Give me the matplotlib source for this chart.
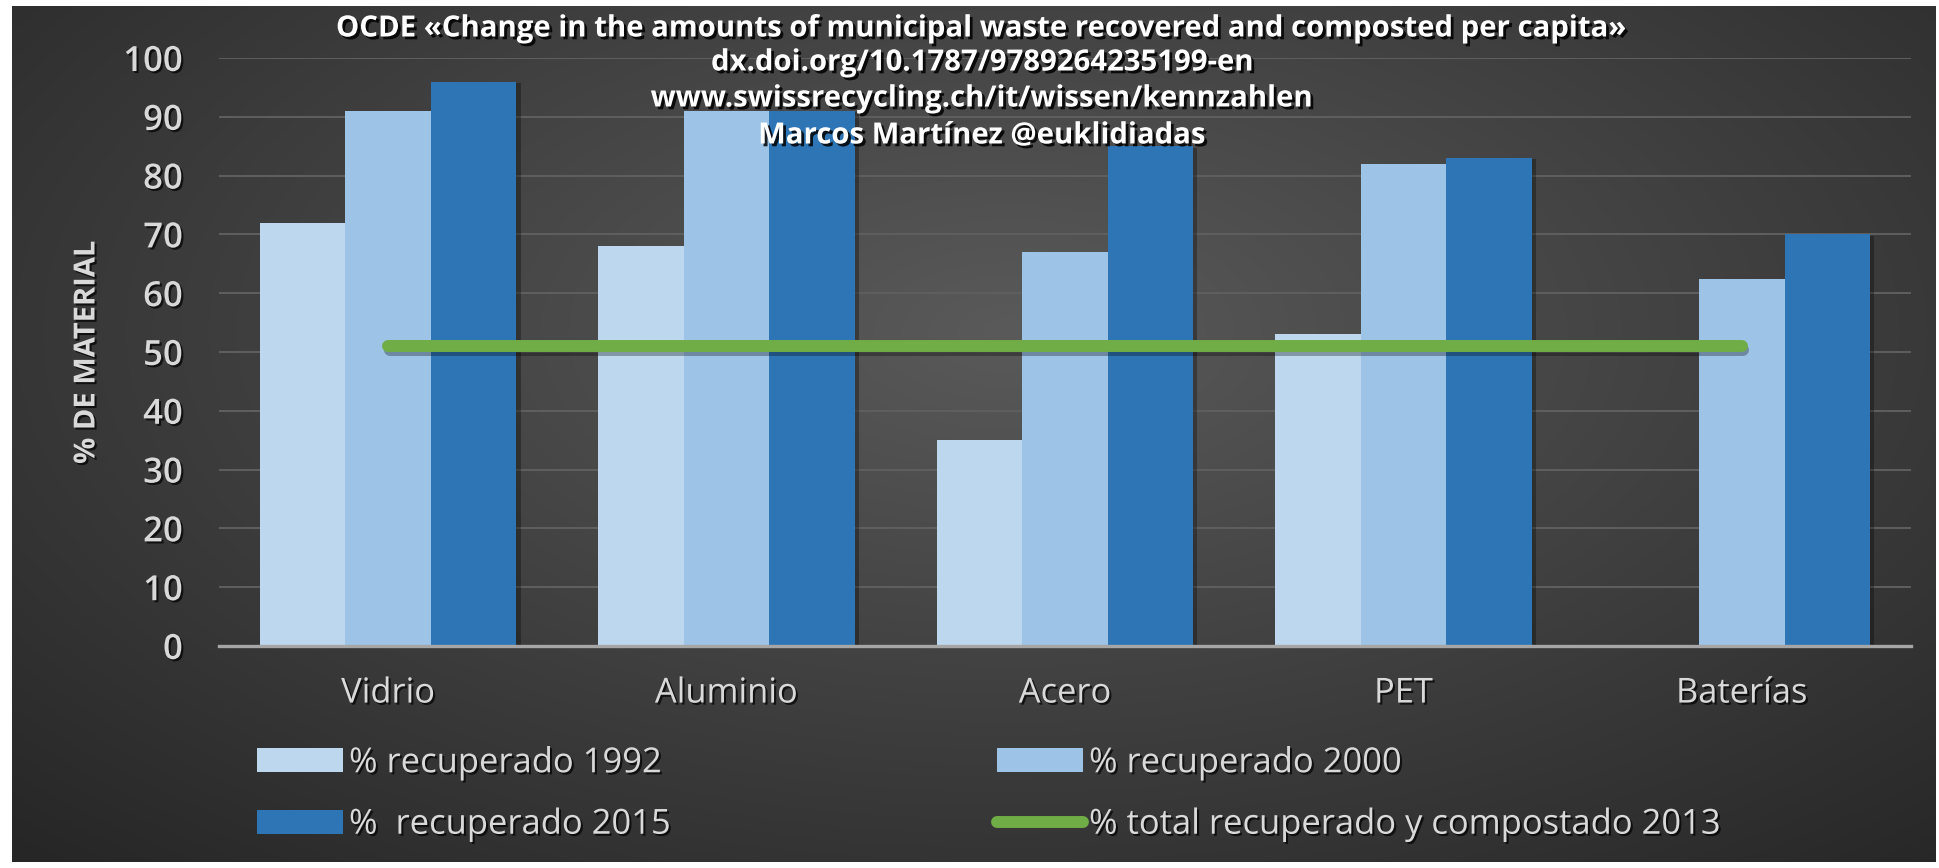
import numpy as np
import matplotlib
matplotlib.use('Agg')
import matplotlib.pyplot as plt
from matplotlib import patheffects as pe
from matplotlib.patches import Patch
from matplotlib.lines import Line2D

# ---------------- data ----------------
categories = ['Vidrio', 'Aluminio', 'Acero', 'PET', 'Baterías']
rec_1992 = [72, 68, 35, 53, np.nan]
rec_2000 = [91, 91, 67, 82, 62.5]
rec_2015 = [96, 91, 85, 83, 70]
total_2013 = [51, 51, 51, 51, 51]
yticks = [0, 10, 20, 30, 40, 50, 60, 70, 80, 90, 100]
title_lines = [
    'OCDE «Change in the amounts of municipal waste recovered and composted per capita»',
    'dx.doi.org/10.1787/9789264235199-en',
    'www.swissrecycling.ch/it/wissen/kennzahlen',
    'Marcos Martínez @euklidiadas',
]
legend_labels = ['% recuperado 1992', '% recuperado 2000',
                 '%  recuperado 2015', '% total recuperado y compostado 2013']
ylabel = '% DE MATERIAL'

# ---------------- style ----------------
C1992, C2000, C2015, CGREEN = '#BDD7EE', '#9DC3E6', '#2E75B6', '#70AD47'
TXT = '#d9d9d9'
FONT = 'Open Sans'
W, H = 1940, 868

fig = plt.figure(figsize=(W / 100, H / 100), dpi=100)
fig.patch.set_facecolor('white')
renderer = fig.canvas.get_renderer()


def fy(py):
    return 1 - py / H


def text_width(s, size, **kw):
    t = fig.text(0, 0, s, fontsize=size, **kw)
    wdt = t.get_window_extent(renderer).width
    t.remove()
    return wdt


def fit(s, target, **kw):
    return 10 * target / text_width(s, 10, **kw)


# background with radial gradient
bg = fig.add_axes([12 / W, 6 / H, (1936 - 12) / W, (862 - 6) / H])
yy, xx = np.mgrid[0:1:300j, 0:1:600j]
r = np.sqrt(((xx - 0.52) / 0.75) ** 2 + ((yy - 0.62) / 0.85) ** 2)
r = np.clip(r, 0, 1)
c_in = np.array([0x5a, 0x5a, 0x5a]) / 255
c_out = np.array([0x26, 0x26, 0x26]) / 255
img = c_in[None, None, :] * (1 - r[..., None]) + c_out[None, None, :] * r[..., None]
bg.imshow(img, extent=[0, 1, 0, 1], aspect='auto', origin='lower')
bg.set_axis_off()
bg.set_zorder(-10)

# main axes
ax = fig.add_axes([219 / W, fy(646), (1911 - 219) / W, (646 - 58) / H])
ax.set_facecolor('none')
x = np.arange(len(categories))
w = 0.2525
shadow = [pe.SimplePatchShadow(offset=(3, -1), shadow_rgbFace='black', alpha=0.3), pe.Normal()]
ax.bar(x - w, rec_1992, w, color=C1992, zorder=3, path_effects=shadow)
ax.bar(x, rec_2000, w, color=C2000, zorder=3, path_effects=shadow)
ax.bar(x + w, rec_2015, w, color=C2015, zorder=3, path_effects=shadow)
ax.plot(x, total_2013, color=CGREEN, lw=8.6, solid_capstyle='round', zorder=5,
        path_effects=[pe.SimpleLineShadow(offset=(1, -3), shadow_color='black', alpha=0.3),
                      pe.Normal()])

ax.set_xlim(-0.5, len(categories) - 0.5)
ax.set_ylim(0, 100)
ax.set_yticks(yticks)
ax.yaxis.grid(True, color='#5f5f5f', lw=1.4)
ax.set_axisbelow(True)
for s in ['top', 'right', 'left']:
    ax.spines[s].set_visible(False)
ax.spines['bottom'].set_color('#a6a6a6')
ax.spines['bottom'].set_linewidth(2.4)
ax.spines['bottom'].set_zorder(4)

txt_shadow = [pe.withSimplePatchShadow(offset=(1.5, -1.5), shadow_rgbFace='black', alpha=0.7)]

tick_fs = fit('100', 60, family=FONT, weight='semibold')
ax.set_yticklabels([str(v) for v in yticks], family=FONT, weight='semibold', fontsize=tick_fs,
                   color=TXT, path_effects=txt_shadow)
ax.tick_params(axis='y', length=0, pad=26)

cat_fs = fit('Vidrio', 94, family=FONT)
ax.set_xticks(x)
ax.set_xticklabels(categories, family=FONT, fontsize=cat_fs, color=TXT, path_effects=txt_shadow)
ax.tick_params(axis='x', length=0, pad=22)

yl_fs = fit(ylabel, 223, family=FONT, weight='bold')
fig.text(87 / W, fy(352), ylabel, rotation=90, ha='center', va='center', family=FONT,
         weight='bold', fontsize=yl_fs, color=TXT, path_effects=txt_shadow)

# title lines
title_fs = fit(title_lines[0], 1292, family=FONT, weight='bold')
for line, py in zip(title_lines, [29, 63, 99, 136]):
    fig.text(982 / W, fy(py), line, ha='center', va='center', family=FONT, weight='bold',
             fontsize=title_fs, color='white', zorder=20,
             path_effects=[pe.withSimplePatchShadow(offset=(2, -2), shadow_rgbFace='black', alpha=0.85)])

# legend
leg_fs = fit(legend_labels[0], 313, family=FONT)
handles = [Patch(facecolor=C1992), Patch(facecolor=C2015), Patch(facecolor=C2000),
           Line2D([0], [0], color=CGREEN, lw=8.6, solid_capstyle='round')]
labels = [legend_labels[0], legend_labels[2], legend_labels[1], legend_labels[3]]
em = leg_fs * 100 / 72
col1_text_w = text_width(legend_labels[2], leg_fs, family=FONT)
patch_w = 86
text_pad = 6
colspace_px = 997 - (257 + patch_w + text_pad + col1_text_w)
leg = fig.legend(handles, labels, ncol=2, loc='center left',
                 bbox_to_anchor=(257 / W, fy(794)), frameon=False,
                 prop={'family': FONT, 'size': leg_fs},
                 handlelength=patch_w / em, handleheight=0.7, handletextpad=text_pad / em,
                 columnspacing=colspace_px / em, labelspacing=(62 / em) - 1.0,
                 borderpad=0, borderaxespad=0)
for tx in leg.get_texts():
    tx.set_color(TXT)
    tx.set_path_effects(txt_shadow)

fig.savefig('out.png', dpi=100, facecolor=fig.get_facecolor())
